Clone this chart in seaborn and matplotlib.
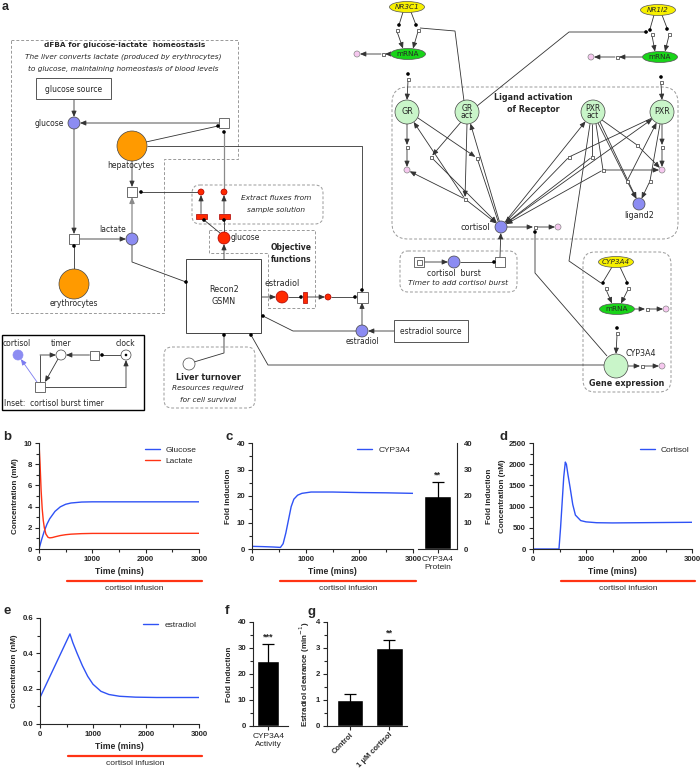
import numpy as np
import pandas as pd
import matplotlib
matplotlib.use('Agg')
import matplotlib.pyplot as plt
import seaborn as sns
from matplotlib.patches import Circle, Rectangle, Ellipse, FancyBboxPatch, Polygon
from matplotlib.ticker import MultipleLocator
from matplotlib.transforms import blended_transform_factory

# ---- values ----
glc_t = [0, 50, 100, 150, 200, 300, 400, 500, 600, 800, 1000, 2000, 3000]
glc_v = [0, 0.9, 1.7, 2.35, 2.85, 3.55, 3.98, 4.22, 4.34, 4.43, 4.45, 4.45, 4.45]
lac_t = [0, 20, 40, 60, 80, 100, 130, 170, 200, 250, 300, 400, 500, 600, 800, 1000, 3000]
lac_v = [10, 8.0, 5.5, 3.8, 2.7, 2.0, 1.4, 1.1, 1.05, 1.08, 1.15, 1.27, 1.35, 1.4, 1.45, 1.47, 1.48]

cyp_t = [0, 200, 400, 530, 580, 630, 680, 730, 780, 850, 930, 1100, 1500, 2000, 2500, 3000]
cyp_v = [1.0, 0.9, 0.75, 0.6, 2.0, 6.0, 11.0, 16.0, 18.8, 20.3, 21.0, 21.5, 21.5, 21.3, 21.2, 21.0]
cyp_protein = 20.0
cyp_protein_err = 5.3

cort_t = [0, 490, 520, 550, 580, 610, 630, 660, 700, 750, 800, 900, 1000, 1200, 1500, 2000, 2500, 3000]
cort_v = [0, 0, 500, 1100, 1700, 2050, 2000, 1750, 1450, 1050, 800, 670, 640, 620, 615, 620, 625, 630]

est_t = [0, 565, 620, 700, 800, 900, 1000, 1150, 1300, 1500, 1800, 2200, 3000]
est_v = [0.15, 0.51, 0.46, 0.40, 0.33, 0.27, 0.225, 0.185, 0.167, 0.157, 0.152, 0.15, 0.15]

cyp_activity = 25.0
cyp_activity_err = 6.5

clear_groups = ['Control', '1 \u03bcM cortisol']
clear_vals = [1.0, 3.0]
clear_errs = [0.22, 0.32]

infusion = [520, 3060]

BLUE = '#2f52f5'
RED = '#ff3314'

sns.set_style('ticks')
plt.rcParams['font.family'] = ['Liberation Sans', 'DejaVu Sans']
plt.rcParams['axes.linewidth'] = 0.8

W, H = 700, 769
fig = plt.figure(figsize=(7, 7.69), dpi=100)

# ================= panel a: network diagram (pixel coordinates) =================
ax0 = fig.add_axes([0, 0, 1, 1])
ax0.set_xlim(0, W)
ax0.set_ylim(H, 0)
ax0.axis('off')

DK = '#333333'
GR_ = '#8a8a8a'
NODE_BLUE = '#8c8cf2'
PINK = '#f6c8ef'
LGREEN = '#c9f5c9'
GREEN = '#19d419'
YEL = '#f7f000'
ORANGE = '#ff9a00'
RNODE = '#ff2a00'


def T(x, y, s, size=5.5, **kw):
    kw.setdefault('ha', 'center')
    ax0.text(x, y, s, va='center', family='DejaVu Sans', fontsize=size, zorder=6, **kw)


def line(pts, c=DK, lw=0.6):
    xs, ys = zip(*pts)
    ax0.plot(xs, ys, color=c, lw=lw, zorder=1, solid_capstyle='butt')


def arr(p, q, ra=0, rb=0, c=DK, lw=0.6):
    (x1, y1), (x2, y2) = p, q
    d = np.hypot(x2 - x1, y2 - y1)
    ux, uy = (x2 - x1) / d, (y2 - y1) / d
    ax0.annotate('', xy=(x2 - ux * rb, y2 - uy * rb), xytext=(x1 + ux * ra, y1 + uy * ra),
                 arrowprops=dict(arrowstyle='-|>,head_length=0.35,head_width=0.15', lw=lw,
                                 color=c, shrinkA=0, shrinkB=0), zorder=2)


def node(x, y, r, fc, ec='#444444'):
    ax0.add_patch(Circle((x, y), r, fc=fc, ec=ec, lw=0.5, zorder=3))


def sq(x, y, s=10, ec='#555555'):
    ax0.add_patch(Rectangle((x - s / 2, y - s / 2), s, s, fc='white', ec=ec, lw=0.6, zorder=3))


def dot(x, y, r=1.8):
    ax0.add_patch(Circle((x, y), r, fc='black', ec='none', zorder=4))


def ell(x, y, fc, label, italic=False):
    ax0.add_patch(Ellipse((x, y), 35, 11, fc=fc, ec='#555555', lw=0.5, zorder=3))
    T(x, y, label, size=5.2, style='italic' if italic else 'normal')


def dashbox(x0, y0, x1, y1, rs=8):
    ax0.add_patch(FancyBboxPatch((x0, y0), x1 - x0, y1 - y0, boxstyle=f'round,pad=0,rounding_size={rs}',
                                 fc='none', ec='#999999', lw=0.7, ls=(0, (3, 2)), zorder=0))


def dashpoly(pts):
    ax0.add_patch(Polygon(pts, closed=True, fc='none', ec='#999999', lw=0.7, ls=(0, (3, 2)), zorder=0))


def degrade(src, s, p, rs=0):
    arr(src, s, rs, 2)
    sq(s[0], s[1], 3)
    arr(s, p, 2, 3)
    node(p[0], p[1], 3, PINK, '#888888')


ax0.text(2, 7, 'a', fontsize=9, fontweight='bold', va='center', ha='left')

# dFBA block
dashpoly([(11, 40), (238, 40), (238, 159), (164, 159), (164, 313), (11, 313)])
T(125, 45, 'dFBA for glucose-lactate  homeostasis', size=5.3, fontweight='bold')
T(123, 57, 'The liver converts lactate (produced by erythrocytes)', size=5.3, style='italic')
T(123, 69, 'to glucose, maintaining homeostasis of blood levels', size=5.3, style='italic')
ax0.add_patch(Rectangle((36, 78), 75, 21, fc='white', ec='#555555', lw=0.7, zorder=3))
T(73.5, 89, 'glucose source')
node(74, 123, 6, NODE_BLUE)
T(64, 123, 'glucose', ha='right')
arr((74, 99), (74, 123), 0, 6)
sq(224, 123)
arr((219, 123), (74, 123), 0, 6)
node(132, 146, 15, ORANGE)
T(131, 166, 'hepatocytes')
line([(146, 142), (218, 126)])
dot(218, 126)
line([(147, 146), (362, 146), (362, 291)])
dot(224, 132)
line([(224, 132), (224, 189)], c=GR_, lw=0.9)
sq(132, 192)
dot(141, 192)
line([(141, 192), (198, 192)])
arr((132, 161), (132, 187))
node(132, 239, 6, NODE_BLUE)
T(113, 229, 'lactate')
arr((132, 233), (132, 197), c=GR_, lw=0.9)
line([(132, 245), (132, 262), (186, 282)])
dot(186, 282)
sq(74, 239)
arr((74, 129), (74, 234))
arr((79, 239), (132, 239), 0, 6)
dot(74, 246)
line([(74, 246), (74, 269)])
node(74, 284, 15, ORANGE)
T(74, 304, 'erythrocytes')

# extract fluxes / objective
dashbox(192, 185, 323, 224)
T(276, 198, 'Extract fluxes from', size=5.3, style='italic')
T(276, 210, 'sample solution', size=5.3, style='italic')
for xr in (201, 224):
    node(xr, 192, 3, RNODE, '#aa0000')
    ax0.add_patch(Rectangle((xr - 5.5, 213.5), 11, 5, fc=RNODE, ec='#aa0000', lw=0.5, zorder=3))
    arr((xr, 213.5), (xr, 192), 0, 3)
dot(204, 220)
dot(224, 220)
line([(204, 220), (220, 233)])
line([(224, 220), (224, 232)])
node(224, 238, 6, RNODE, '#aa0000')
T(231, 238, 'glucose', ha='left')
dashpoly([(209, 230), (315, 230), (315, 308), (268, 308), (268, 253), (209, 253)])
T(291, 247, 'Objective', fontweight='bold')
T(291, 259, 'functions', fontweight='bold')
ax0.add_patch(Rectangle((186, 259), 75, 74, fc='white', ec='#444444', lw=0.7, zorder=3))
T(224, 289, 'Recon2', size=5.8)
T(224, 301, 'GSMN', size=5.8)
arr((224, 259), (224, 238), 0, 6)
T(282, 284, 'estradiol', size=5.8)
arr((261, 297), (282, 297), 0, 6)
node(282, 297, 6, RNODE, '#aa0000')
line([(288, 297), (301, 297)])
dot(301, 297)
ax0.add_patch(Rectangle((303, 291.5), 4, 11, fc=RNODE, ec='#aa0000', lw=0.5, zorder=3))
arr((307, 297), (328, 297), 0, 3)
node(328, 297, 3, RNODE, '#aa0000')
line([(331, 297), (355, 297)])
dot(355, 297)
sq(362, 297, 11)
dot(362, 290)
node(362, 331, 6, NODE_BLUE)
T(362, 341, 'estradiol')
arr((362, 325), (362, 302.5))
ax0.add_patch(Rectangle((394, 320), 74, 22, fc='white', ec='#555555', lw=0.7, zorder=3))
T(431, 331, 'estradiol source')
arr((394, 331), (362, 331), 0, 6)
dot(263, 316)
line([(263, 316), (293, 331), (356, 331)])
dot(224, 335)
line([(224, 335), (224, 353), (194, 362)])
node(189, 364, 6, 'white')
dot(251, 335)
line([(251, 335), (268, 365), (604, 365)])

dashbox(164, 347, 255, 408)
T(208, 377, 'Liver turnover', size=5.8, fontweight='bold')
T(208, 388, 'Resources required', size=5.3, style='italic')
T(208, 400, 'for cell survival', size=5.3, style='italic')

# inset timer
ax0.add_patch(Rectangle((2, 335), 142, 75, fc='none', ec='black', lw=1.0, zorder=3))
T(17, 344, 'cortisol')
T(61, 344, 'timer')
T(125, 344, 'clock')
T(4, 404, 'Inset:  cortisol burst timer', ha='left')
node(18, 355, 5, NODE_BLUE, NODE_BLUE)
node(61, 355, 5, 'white')
node(126, 355, 5, 'white')
dot(126, 355, 1.3)
sq(94, 355, 9)
dot(102, 355)
line([(102, 355), (121, 355)])
arr((89.5, 355), (61, 355), 0, 5)
sq(40, 387, 10)
line([(40, 382), (40, 355)])
arr((40, 355), (61, 355), 0, 5)
arr((58, 359), (45, 382))
line([(45, 387), (126, 387)])
arr((126, 387), (126, 355), 0, 5)
arr((37, 382), (18, 355), 0, 5, c='#7b7bf0')

# receptor block
dashbox(392, 87, 678, 239, 16)
T(533, 97, 'Ligand activation', size=5.8, fontweight='bold')
T(533, 109, 'of Receptor', size=5.8, fontweight='bold')

ell(407, 7, YEL, 'NR3C1', True)
ell(408, 54, GREEN, 'mRNA')
line([(403, 12), (399, 25)])
line([(411, 12), (416, 25)])
dot(399, 25)
dot(416, 25)
sq(397, 30, 3)
sq(418, 30, 3)
arr((397, 31.5), (403, 48.5))
arr((418, 31.5), (413, 48.5))
line([(420, 28), (455, 31), (464, 101)])
degrade((390, 54), (383, 54), (357, 54))
dot(408, 74)
sq(408, 79, 3)
arr((408, 81), (407, 100))

ell(658, 10, YEL, 'NR1I2', True)
ell(660, 57, GREEN, 'mRNA')
line([(654, 15), (650, 29)])
line([(662, 15), (667, 28)])
dot(650, 30)
dot(667, 29)
sq(652, 34, 3)
sq(669, 34, 3)
arr((652, 35.5), (655, 51.5))
arr((669, 35.5), (665, 51.5))
line([(477, 106), (569, 32), (648, 32)])
dot(646, 32)
degrade((642, 57), (617, 57), (591, 57))
dot(661, 77)
sq(661, 82, 3)
arr((661, 84), (662, 100))

node(407, 112, 12, LGREEN)
T(407, 112, 'GR', size=5.8)
node(467, 112, 12, LGREEN)
T(467, 112, 'GR\nact', size=5.6, linespacing=0.85)
node(593, 112, 12, LGREEN)
T(593, 112, 'PXR\nact', size=5.6, linespacing=0.85)
node(662, 112, 12, LGREEN)
T(662, 112, 'PXR', size=5.8)
node(639, 204, 6, NODE_BLUE)
T(639, 215, 'ligand2', size=5.8)

C = (501, 227)
node(501, 227, 6, NODE_BLUE)
T(490, 227, 'cortisol', size=5.8, ha='right')

# left receptor reactions
degrade((407, 124), (407, 147), (407, 170))
sqs = {'b': (477, 158), 'c': (431, 157), 'd': (465, 199)}
for p in sqs.values():
    sq(p[0], p[1], 3)
arr((418, 118), sqs['b'], 0, 2)
line([sqs['b'], (498, 221)])
arr((461, 122), sqs['c'], 0, 2)
arr(sqs['c'], C, 2, 6)
arr((467, 124), sqs['d'], 0, 2)
arr(sqs['d'], (407, 170), 2, 3)
arr(sqs['d'], (407, 112), 2, 12)
arr(C, (467, 112), 6, 12)
arr(sqs['d'], C, 2, 6)

# right receptor reactions
degrade((662, 124), (662, 147), (662, 170))
rs = {'e': (569, 157), 'f': (592, 157), 'g': (603, 170), 'h': (637, 145), 'i': (627, 181), 'j': (650, 181)}
for p in rs.values():
    sq(p[0], p[1], 3)
line([(652, 118), rs['e']])
arr(rs['e'], C, 2, 6)
arr(C, (593, 112), 6, 12)
line([(592, 124), rs['f']])
arr(rs['f'], C, 2, 6)
line([(596, 124), rs['g']])
arr(rs['g'], (662, 170), 2, 3)
arr(rs['g'], C, 2, 6)
line([(602, 120), rs['h']])
arr(rs['h'], (662, 170), 2, 3)
arr((600, 122), (639, 204), 0, 6)
line([(598, 123), rs['i']])
arr(rs['i'], (639, 204), 2, 6)
arr(rs['i'], (662, 112), 2, 12)
line([(660, 124), rs['j']])
arr(rs['j'], (639, 204), 2, 6)
arr(C, (662, 112), 6, 12)
line([(590, 124), (569, 261), (601, 283)])

# cortisol burst and degradation
degrade((507, 227), (535, 227), (558, 227))
dot(535, 232)
line([(535, 232), (535, 273), (607, 356)])
dashbox(400, 251, 517, 292)
sq(419, 262, 10)
sq(419, 262, 5)
arr((424, 262), (454, 262), 0, 6)
node(454, 262, 6, NODE_BLUE)
line([(460, 262), (494, 262)])
dot(494, 262)
sq(500, 262, 10)
arr((500, 257), C, 0, 6)
T(454, 273, 'cortisol  burst', size=5.6)
T(458, 283, 'Timer to add cortisol burst', size=5.4, style='italic')

# gene expression block
dashbox(583, 252, 671, 392, 12)
T(627, 383, 'Gene expression', size=5.8, fontweight='bold')
ell(616, 262, YEL, 'CYP3A4', True)
line([(612, 267), (603, 282)])
line([(620, 267), (627, 282)])
dot(603, 283)
dot(627, 283)
sq(606, 288, 3)
sq(628, 288, 3)
arr((606, 289.5), (612, 303.5))
arr((628, 289.5), (621, 303.5))
ell(617, 309, GREEN, 'mRNA')
degrade((635, 309), (647, 309), (666, 309))
dot(617, 328)
sq(617, 333, 3)
arr((617, 335), (616, 354))
node(616, 366, 12, LGREEN)
T(641, 353, 'CYP3A4', size=5.8)
degrade((628, 366), (642, 366), (662, 366))


# ================= panels b-g =================
def px_axes(l, t, r, b):
    return fig.add_axes([l / W, 1 - b / H, (r - l) / W, (b - t) / H])


def style(ax, xmin=None, ymin=None):
    sns.despine(ax=ax)
    ax.tick_params(length=3, width=0.8, labelsize=5.6, pad=2)
    ax.tick_params(which='minor', length=2, width=0.8)
    if xmin:
        ax.xaxis.set_minor_locator(MultipleLocator(xmin))
    if ymin:
        ax.yaxis.set_minor_locator(MultipleLocator(ymin))
    for lab in ax.get_xticklabels() + ax.get_yticklabels():
        lab.set_fontweight('bold')


def infusion_bar(ax):
    tr = blended_transform_factory(ax.transData, ax.transAxes)
    ax.plot(infusion, [-0.305, -0.305], color=RED, lw=1.6, transform=tr, clip_on=False)
    ax.text(np.mean(infusion), -0.37, 'cortisol infusion', transform=tr, ha='center', va='center', fontsize=6)


def time_axis(ax):
    ax.set_xlim(0, 3000)
    ax.set_xticks([0, 1000, 2000, 3000])
    ax.set_xlabel('Time (mins)', fontsize=6.2, fontweight='bold', labelpad=3)


def legend(ax):
    ax.legend(loc='upper right', bbox_to_anchor=(1.03, 1.04), frameon=False, fontsize=6,
              handlelength=1.8, handletextpad=0.7, labelspacing=0.35)


# b
axb = px_axes(39, 443, 199, 549)
df_b1 = pd.DataFrame({'t': glc_t, 'v': glc_v})
df_b2 = pd.DataFrame({'t': lac_t, 'v': lac_v})
sns.lineplot(data=df_b1, x='t', y='v', ax=axb, color=BLUE, lw=1, label='Glucose')
sns.lineplot(data=df_b2, x='t', y='v', ax=axb, color=RED, lw=1, label='Lactate')
axb.set_ylim(0, 10)
axb.set_yticks(range(0, 11, 2))
time_axis(axb)
axb.set_ylabel('Concentration (mM)', fontsize=5.8, fontweight='bold', labelpad=3)
legend(axb)
style(axb, 500, 1)
infusion_bar(axb)

# c
axc = px_axes(252, 443, 413, 549)
sns.lineplot(data=pd.DataFrame({'t': cyp_t, 'v': cyp_v}), x='t', y='v', ax=axc, color=BLUE, lw=1, label='CYP3A4')
axc.set_ylim(0, 40)
axc.set_yticks(range(0, 41, 10))
time_axis(axc)
axc.set_ylabel('Fold induction', fontsize=5.8, fontweight='bold', labelpad=3)
legend(axc)
style(axc, 500, 5)
infusion_bar(axc)

axc2 = px_axes(418, 443, 457, 549)
sns.barplot(x=['CYP3A4\nProtein'], y=[cyp_protein], color='black', width=0.67, ax=axc2, saturation=1)
axc2.errorbar(0, cyp_protein, yerr=cyp_protein_err, fmt='none', ecolor='black', elinewidth=0.9, capsize=4, capthick=0.9)
axc2.text(0, cyp_protein + cyp_protein_err + 2.5, '**', ha='center', va='center', fontsize=6.5, fontweight='bold')
axc2.set_xlim(-0.5, 0.5)
axc2.set_ylim(0, 40)
axc2.set_yticks(range(0, 41, 10))
axc2.yaxis.tick_right()
axc2.yaxis.set_label_position('right')
axc2.set_ylabel('Fold induction', fontsize=5.8, fontweight='bold', labelpad=10)
sns.despine(ax=axc2, left=True, right=False)
axc2.tick_params(length=3, width=0.8, labelsize=5.6, pad=2)
axc2.tick_params(axis='x', labelsize=6)
axc2.tick_params(which='minor', length=2, width=0.8)
axc2.yaxis.set_minor_locator(MultipleLocator(5))
for lab in axc2.get_yticklabels():
    lab.set_fontweight('bold')

# d
axd = px_axes(533, 443, 692, 549)
sns.lineplot(data=pd.DataFrame({'t': cort_t, 'v': cort_v}), x='t', y='v', ax=axd, color=BLUE, lw=1, label='Cortisol')
axd.set_ylim(0, 2500)
axd.set_yticks(range(0, 2501, 500))
time_axis(axd)
axd.set_ylabel('Concentration (nM)', fontsize=5.8, fontweight='bold', labelpad=2)
legend(axd)
style(axd, 500, 250)
infusion_bar(axd)

# e
axe = px_axes(40, 618, 199, 724)
sns.lineplot(data=pd.DataFrame({'t': est_t, 'v': est_v}), x='t', y='v', ax=axe, color=BLUE, lw=1, label='estradiol')
axe.set_ylim(0, 0.6)
axe.set_yticks([0, 0.2, 0.4, 0.6])
axe.set_yticklabels(['0.0', '0.2', '0.4', '0.6'])
time_axis(axe)
axe.set_ylabel('Concentration (nM)', fontsize=5.8, fontweight='bold', labelpad=3)
legend(axe)
style(axe, 500, 0.1)
infusion_bar(axe)

# f
axf = px_axes(253, 622, 288, 726)
sns.barplot(x=['CYP3A4\nActivity'], y=[cyp_activity], color='black', width=1.0, ax=axf, saturation=1)
axf.errorbar(0, cyp_activity, yerr=cyp_activity_err, fmt='none', ecolor='black', elinewidth=0.9, capsize=4, capthick=0.9)
axf.text(0, cyp_activity + cyp_activity_err + 2.8, '***', ha='center', va='center', fontsize=6.5, fontweight='bold')
axf.set_xlim(-0.7, 0.9)
axf.set_ylim(0, 40)
axf.set_yticks(range(0, 41, 10))
axf.set_xlabel('')
axf.set_ylabel('Fold induction', fontsize=5.8, fontweight='bold', labelpad=3)
style(axf, None, 5)
axf.tick_params(axis='x', labelsize=6)
for lab in axf.get_xticklabels():
    lab.set_fontweight('normal')

# g
axg = px_axes(327, 622, 407, 726)
sns.barplot(x=clear_groups, y=clear_vals, color='black', width=0.69, ax=axg, saturation=1)
axg.errorbar([0, 1], clear_vals, yerr=clear_errs, fmt='none', ecolor='black', elinewidth=0.9, capsize=4, capthick=0.9)
axg.text(1, clear_vals[1] + clear_errs[1] + 0.27, '**', ha='center', va='center', fontsize=6.5, fontweight='bold')
axg.set_xlim(-0.59, 1.46)
axg.set_ylim(0, 4)
axg.set_yticks(range(0, 5))
axg.set_ylabel('Estradiol clearance (min$^{-1}$)', fontsize=5.8, fontweight='bold', labelpad=3)
style(axg, None, 0.5)
axg.tick_params(axis='x', labelsize=5.4, pad=1)
for lab in axg.get_xticklabels():
    lab.set_rotation(45)
    lab.set_ha('right')
    lab.set_rotation_mode('anchor')

for lbl, (x, y) in {'b': (3, 437), 'c': (226, 437), 'd': (499, 437),
                    'e': (3, 611), 'f': (225, 611), 'g': (307, 612)}.items():
    ax0.text(x, y, lbl, fontsize=9.5, fontweight='bold', ha='left', va='center')

fig.savefig('out.png', dpi=100)
